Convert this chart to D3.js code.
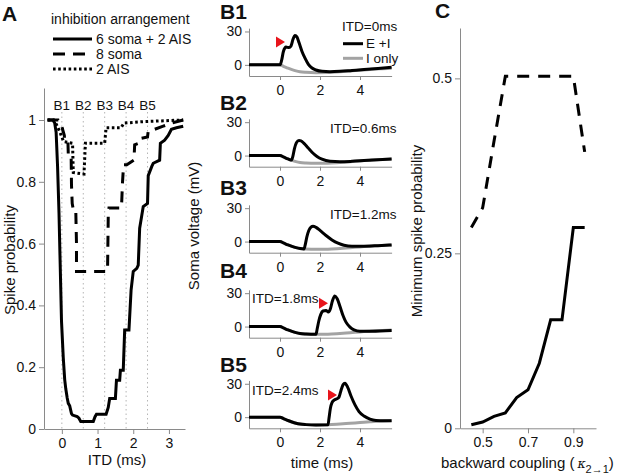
<!DOCTYPE html>
<html>
<head>
<meta charset="utf-8">
<script src="https://cdn.jsdelivr.net/npm/d3@7"></script>
<style>
body { margin: 0; background: #fff; }
text { font-family: "Liberation Sans", Arial, sans-serif; }
</style>
</head>
<body>
<svg width="617" height="475"></svg>
<script>
// ---- panel A: spike probability vs ITD, [ITD (ms), probability]
var aSomaAis = [[-0.4,1],[-0.25,1],[-0.2,0.99],[-0.16,0.96],[-0.12,0.85],[-0.08,0.7],[-0.05,0.55],[-0.01,0.35],[0.04,0.23],[0.08,0.16],[0.11,0.13],[0.15,0.1],[0.18,0.083],[0.22,0.075],[0.27,0.05],[0.3,0.045],[0.43,0.04],[0.48,0.035],[0.53,0.024],[0.88,0.024],[0.93,0.04],[0.97,0.048],[1.24,0.048],[1.3,0.07],[1.34,0.099],[1.5,0.099],[1.53,0.158],[1.62,0.158],[1.64,0.19],[1.72,0.19],[1.76,0.32],[1.88,0.32],[1.94,0.45],[2.0,0.51],[2.1,0.52],[2.14,0.53],[2.18,0.65],[2.28,0.72],[2.4,0.73],[2.42,0.82],[2.52,0.85],[2.56,0.86],[2.74,0.87],[2.76,0.925],[2.88,0.935],[2.98,0.95],[3.07,0.97],[3.21,0.975],[3.4,0.98]];
var aSoma = [[-0.4,1],[-0.1,1],[-0.02,0.99],[0.02,0.97],[0.07,0.95],[0.08,0.93],[0.17,0.93],[0.18,0.89],[0.26,0.89],[0.27,0.79],[0.29,0.73],[0.32,0.71],[0.39,0.71],[0.41,0.6],[0.41,0.51],[1.28,0.51],[1.3,0.69],[1.32,0.715],[1.67,0.715],[1.7,0.8],[1.73,0.855],[1.82,0.855],[2.02,0.87],[2.04,0.92],[2.16,0.925],[2.18,0.94],[2.4,0.945],[2.42,0.965],[2.6,0.97],[2.84,0.98],[3.07,0.99],[3.4,1.0]];
var aAis = [[-0.4,1],[-0.22,1],[-0.15,0.985],[-0.05,0.96],[0.05,0.93],[0.3,0.925],[0.32,0.83],[0.62,0.825],[0.66,0.925],[1.2,0.925],[1.24,0.975],[1.66,0.975],[1.74,0.99],[2.3,0.995],[3.4,1.0]];
var aLegend = ["6 soma + 2 AIS", "8 soma", "2 AIS"];
var bNames = ["B1", "B2", "B3", "B4", "B5"];
var bItds = [0, 0.6, 1.2, 1.8, 2.4];
var aXTicks = [0, 1, 2, 3];
var aYTicks = [0, 0.2, 0.4, 0.6, 0.8, 1];

// ---- panel B: soma voltage traces, [time (ms), mV]
var iOnly = [[-1.55,0],[0,0],[0.2,-1.5],[0.4,-3],[0.6,-4.3],[0.8,-5.4],[1.0,-6.2],[1.3,-6.7],[1.8,-7],[2.4,-6.9],[3,-6.2],[3.5,-5.5],[4,-4.8],[4.5,-4.1],[5,-3.5],[5.58,-3]];
var b1Trace = [[-1.55,0],[0,0],[0.08,4],[0.17,12],[0.3,16],[0.45,15.5],[0.55,17],[0.65,23],[0.75,26.5],[0.85,25],[0.95,20],[1.1,12],[1.25,6],[1.42,0.5],[1.6,-2.8],[1.8,-4.6],[2.1,-5.8],[2.5,-6.1],[3,-5.8],[3.6,-5],[4.2,-4.2],[4.9,-3.2],[5.58,-2.2]];
var b2Trace = [[-1.55,0],[0,0],[0.2,-1.5],[0.4,-3],[0.58,-4],[0.64,-1],[0.72,6],[0.82,11.5],[0.95,13.5],[1.05,13.2],[1.2,11],[1.4,7],[1.6,3],[1.85,-0.8],[2.1,-3.3],[2.5,-5.2],[3,-5.6],[3.6,-5.2],[4.2,-4.5],[4.9,-3.7],[5.58,-3]];
var b3Trace = [[-1.55,0],[0,0],[0.2,-1.5],[0.4,-3],[0.6,-4.3],[0.8,-5.4],[1.0,-6.2],[1.2,-6.6],[1.26,-3],[1.34,4],[1.44,10],[1.55,13],[1.65,13.8],[1.8,12.8],[2.0,10],[2.3,5.5],[2.6,1.5],[2.9,-1.5],[3.2,-3.3],[3.6,-4.2],[4.2,-4.2],[4.9,-3.7],[5.58,-3]];
var b4Trace = [[-1.55,0],[0,0],[0.2,-1.5],[0.4,-3],[0.6,-4.3],[0.8,-5.4],[1.0,-6.2],[1.3,-6.7],[1.8,-7],[1.86,-2],[1.94,5],[2.04,11],[2.15,14],[2.3,14.5],[2.42,13],[2.52,16],[2.62,23],[2.74,27.5],[2.86,25],[3.0,18],[3.15,10],[3.3,4],[3.5,-0.5],[3.7,-3],[4.0,-4.2],[4.6,-4.2],[5.58,-3.6]];
var b5Trace = [[-1.55,0],[0,0],[0.2,-1.5],[0.4,-3],[0.6,-4.3],[0.8,-5.4],[1.0,-6.2],[1.3,-6.7],[1.8,-7],[2.4,-6.9],[2.45,-1],[2.52,8],[2.6,13],[2.72,15.5],[2.85,16.5],[2.95,18],[3.05,24],[3.15,29],[3.25,30.5],[3.38,27],[3.55,19],[3.75,11],[3.95,5],[4.2,1],[4.5,-1.8],[4.8,-3],[5.2,-3.3],[5.58,-3.2]];
var bTraces = [b1Trace, b2Trace, b3Trace, b4Trace, b5Trace];
var bItdLabels = ["ITD=0ms", "ITD=0.6ms", "ITD=1.2ms", "ITD=1.8ms", "ITD=2.4ms"];
var bArrows = [[0.25,20.5], null, null, [2.4,21], [2.85,20]];
var bXTicks = [0, 2, 4];
var bYTicks = [0, 30];

// ---- panel C: minimum spike probability vs backward coupling
var kappa = [0.45, 0.5, 0.55, 0.6, 0.65, 0.7, 0.75, 0.8, 0.85, 0.9, 0.95];
var cSomaAis = [0.005, 0.009, 0.017, 0.022, 0.044, 0.055, 0.093, 0.155, 0.155, 0.287, 0.287];
var cSoma = [0.287, 0.315, 0.41, 0.503, 0.503, 0.503, 0.503, 0.503, 0.503, 0.503, 0.395];
var cXTicks = [0.5, 0.7, 0.9];
var cYTicks = [0, 0.25, 0.5];

var svg = d3.select("svg");
var axisColor = "#8a8a8a";
var font = "Liberation Sans, Arial, sans-serif";

function styleAxis(g) {
    g.attr("font-size", 14).attr("font-family", font);
    g.select(".domain").attr("stroke", axisColor);
    g.selectAll(".tick line").attr("stroke", axisColor);
    g.selectAll(".tick text").attr("fill", "#111");
}

function label(x, y, txt, size, opts) {
    var t = svg.append("text").attr("x", x).attr("y", y)
        .attr("font-size", size).attr("fill", "#111").text(txt);
    if (opts && opts.bold) t.attr("font-weight", "bold");
    if (opts && opts.anchor) t.attr("text-anchor", opts.anchor);
    if (opts && opts.rotate) t.attr("transform", "rotate(-90," + x + "," + y + ")");
    return t;
}

// ================= Panel A =================
var ax = d3.scaleLinear().domain([-0.5, 3.45]).range([44, 185]);
var ay = d3.scaleLinear().domain([0, 1.1036]).range([429, 88]);

svg.append("g").selectAll("line").data(bItds).enter().append("line")
    .attr("x1", d => ax(d)).attr("x2", d => ax(d))
    .attr("y1", 112).attr("y2", ay(0))
    .attr("stroke", "#b5b5b5").attr("stroke-width", 1).attr("stroke-dasharray", "1.5,3");

svg.append("g").selectAll("text").data(bNames).enter().append("text")
    .attr("x", (d, i) => ax(bItds[i])).attr("y", 110)
    .attr("text-anchor", "middle").attr("font-size", 13.5).attr("fill", "#111")
    .text(d => d);

svg.append("g").attr("transform", "translate(0," + ay(0) + ")")
    .call(d3.axisBottom(ax).tickValues(aXTicks).tickSize(5).tickPadding(4).tickSizeOuter(0)
        .tickFormat(d3.format("d")))
    .call(styleAxis);
svg.append("g").attr("transform", "translate(" + ax(-0.5) + ",0)")
    .call(d3.axisLeft(ay).tickValues(aYTicks).tickSize(5).tickPadding(3).tickSizeOuter(0)
        .tickFormat(d => (d === 0 || d === 1) ? String(d) : d3.format(".1f")(d)))
    .call(styleAxis);

var aLine = d3.line().x(d => ax(d[0])).y(d => ay(d[1]));
svg.append("path").datum(aAis).attr("d", aLine).attr("fill", "none")
    .attr("stroke", "#000").attr("stroke-width", 3).attr("stroke-dasharray", "2.6,2.6");
svg.append("path").datum(aSoma).attr("d", aLine).attr("fill", "none")
    .attr("stroke", "#000").attr("stroke-width", 3).attr("stroke-dasharray", "11,8");
svg.append("path").datum(aSomaAis).attr("d", aLine).attr("fill", "none")
    .attr("stroke", "#000").attr("stroke-width", 3);

// legend
label(51, 24, "inhibition arrangement", 14);
var dashes = [null, "12,8", "2.6,2.6"];
var legY = [39, 54, 69];
aLegend.forEach(function(name, i) {
    svg.append("line").attr("x1", 53).attr("x2", 92).attr("y1", legY[i]).attr("y2", legY[i])
        .attr("stroke", "#000").attr("stroke-width", 3)
        .attr("stroke-dasharray", dashes[i]);
    label(96, legY[i] + 5, name, 14);
});

label(2, 21, "A", 21, {bold: true});
label(15, 260, "Spike probability", 15, {anchor: "middle", rotate: true});
label(117, 465, "ITD (ms)", 15, {anchor: "middle"});

// ================= Panel B =================
var bx = d3.scaleLinear().domain([-1.55, 5.58]).range([249, 391.6]);
var bBottoms = [76, 166.7, 252.7, 337.7, 428.3];
var bLabelY = [18.5, 110, 195, 278, 371.5];
var bItdPos = [[342, 31], [330, 133], [330, 219], [252, 303], [252, 395]];

bTraces.forEach(function(trace, i) {
    var by = d3.scaleLinear().domain([-10, 33]).range([bBottoms[i], bBottoms[i] - 43 * 1.113]);
    svg.append("g").attr("transform", "translate(0," + bBottoms[i] + ")")
        .call(d3.axisBottom(bx).tickValues(bXTicks).tickSize(4).tickPadding(5).tickSizeOuter(0))
        .call(styleAxis);
    svg.append("g").attr("transform", "translate(" + bx(-1.55) + ",0)")
        .call(d3.axisLeft(by).tickValues(bYTicks).tickSize(4).tickPadding(3).tickSizeOuter(0))
        .call(styleAxis);

    var line = d3.line().x(d => bx(d[0])).y(d => by(d[1])).curve(d3.curveMonotoneX);
    svg.append("path").datum(iOnly).attr("d", line).attr("fill", "none")
        .attr("stroke", "#a3a3a3").attr("stroke-width", 3);
    svg.append("path").datum(trace).attr("d", line).attr("fill", "none")
        .attr("stroke", "#000").attr("stroke-width", 3).attr("stroke-linejoin", "round");

    if (bArrows[i]) {
        var tx = bx(bArrows[i][0]), ty = by(bArrows[i][1]);
        svg.append("path")
            .attr("d", "M" + tx + "," + ty + "L" + (tx - 9) + "," + (ty - 5.5) + "L" + (tx - 9) + "," + (ty + 5.5) + "Z")
            .attr("fill", "#e8141b");
    }

    label(220, bLabelY[i], bNames[i], 21, {bold: true});
    label(bItdPos[i][0], bItdPos[i][1], bItdLabels[i], 13.5);
});

// legend in B1
svg.append("line").attr("x1", 343).attr("x2", 363).attr("y1", 43.7).attr("y2", 43.7)
    .attr("stroke", "#000").attr("stroke-width", 3);
label(366, 48, "E +I", 13.5);
svg.append("line").attr("x1", 343).attr("x2", 363).attr("y1", 58.3).attr("y2", 58.3)
    .attr("stroke", "#a3a3a3").attr("stroke-width", 3);
label(366, 62.5, "I only", 13.5);

label(199, 226, "Soma voltage (mV)", 15, {anchor: "middle", rotate: true});
label(322, 468, "time (ms)", 15, {anchor: "middle"});

// ================= Panel C =================
var cx = d3.scaleLinear().domain([0.4, 1.0]).range([460, 596]);
var cy = d3.scaleLinear().domain([0, 0.572]).range([428.3, 28]);

svg.append("g").attr("transform", "translate(0," + cy(0) + ")")
    .call(d3.axisBottom(cx).tickValues(cXTicks).tickSize(5).tickPadding(4).tickSizeOuter(0)
        .tickFormat(d3.format(".1f")))
    .call(styleAxis);
svg.append("g").attr("transform", "translate(" + cx(0.4) + ",0)")
    .call(d3.axisLeft(cy).tickValues(cYTicks).tickSize(5).tickPadding(3).tickSizeOuter(0)
        .tickFormat(d => d === 0 ? "0" : String(d)))
    .call(styleAxis);

var cLine = d3.line().x((d, i) => cx(kappa[i])).y(d => cy(d));
svg.append("path").datum(cSoma).attr("d", cLine).attr("fill", "none")
    .attr("stroke", "#000").attr("stroke-width", 3).attr("stroke-dasharray", "12,9");
svg.append("path").datum(cSomaAis).attr("d", cLine).attr("fill", "none")
    .attr("stroke", "#000").attr("stroke-width", 3);

label(435, 18, "C", 21, {bold: true});
label(422, 231, "Minimum spike probability", 15, {anchor: "middle", rotate: true});

var xl = svg.append("text").attr("x", 441).attr("y", 468).attr("font-size", 15).attr("fill", "#111");
xl.append("tspan").text("backward coupling (");
xl.append("tspan").attr("dx", 3).attr("font-style", "italic").attr("font-family", "DejaVu Serif, serif").attr("font-size", 12.5).text("\u03ba");
xl.append("tspan").attr("dy", 5).attr("font-size", 11).text("2\u21921");
xl.append("tspan").attr("dy", -5).text(")");
</script>
</body>
</html>
